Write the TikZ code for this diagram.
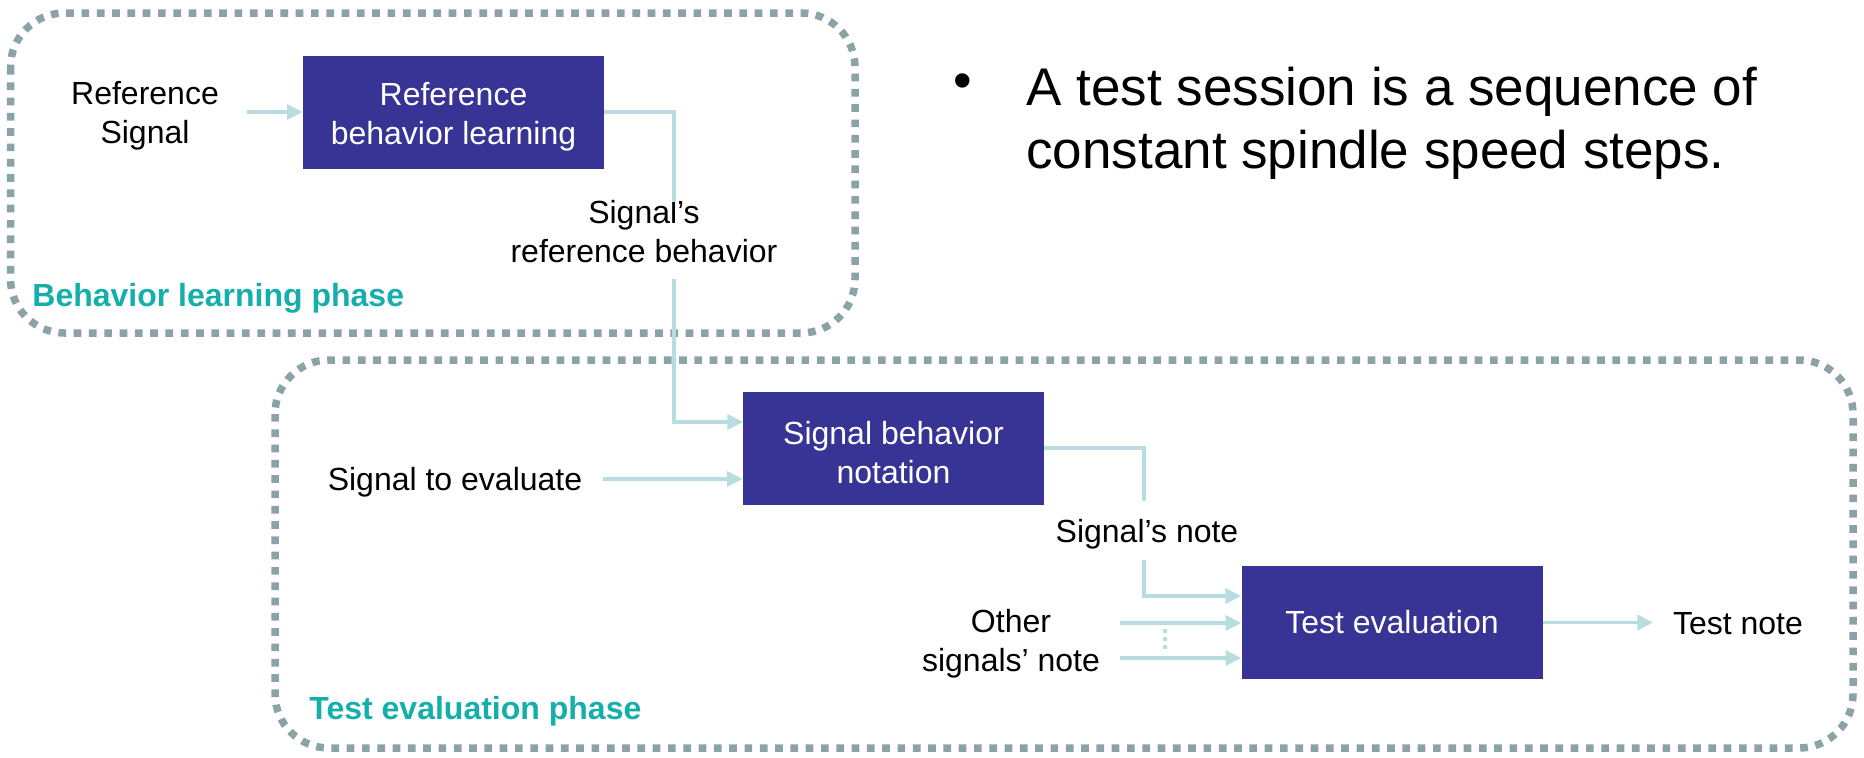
\documentclass[tikz,border=0pt]{standalone}
\usepackage{fontspec}
\setmainfont{Liberation Sans}
\usetikzlibrary{arrows.meta}

\definecolor{boxblue}{RGB}{55,52,150}
\definecolor{linkcol}{RGB}{183,221,224}
\definecolor{framecol}{RGB}{139,163,167}
\definecolor{phasecol}{RGB}{20,175,170}

% two-line caption lowered a little inside its box, keeping the box size
\newcommand{\lowcap}[1]{\raisebox{-2.3pt}[\height][\depth]{\parbox{150pt}{\centering #1}}}

\begin{document}
\begin{tikzpicture}[x=0.5pt,y=-0.5pt,
  txt/.style={font=\fontsize{16}{19.5}\selectfont, align=center, inner sep=0pt},
  stagebox/.style={txt, fill=boxblue, text=white, minimum width=150.5pt, minimum height=56.5pt},
  phaseframe/.style={draw=framecol, line width=3.75pt, dash pattern=on 3.85pt off 3.8pt, rounded corners=27pt},
  phaselabel/.style={font=\fontsize{16}{19.5}\selectfont\bfseries, text=phasecol, inner sep=0pt, anchor=west},
  link/.style={draw=linkcol, line width=1.6pt},
  flow/.style={link, -{Triangle[length=7.8pt,width=7.6pt]}},
  bullettxt/.style={font=\fontsize{26.5}{32}\selectfont, inner sep=0pt, anchor=base west}]

\useasboundingbox (0,0) rectangle (1864,757);

% phase frames
\draw[phaseframe] (10.5,13) rectangle (855,333);
\draw[phaseframe] (275,360) rectangle (1853,748);

\node[phaselabel] (learnph) at (32,298) {Behavior learning phase};
\node[phaselabel] (evalph) at (309,711) {Test evaluation phase};

% processing stages
\node[stagebox] (rbl) at (453.5,112) {\lowcap{Reference\\behavior learning}};
\node[stagebox] (sbn) at (893.5,448) {\lowcap{Signal behavior\\notation}};
\node[stagebox] (te) at (1392,622.5) {Test evaluation};

% inputs and outputs
\node[txt] (refsig) at (145,115.5) {Reference\\Signal};
\node[txt] (refbeh) at (644,232) {Signal’s\\reference behavior};
\node[txt] (sigeval) at (455,482) {Signal to evaluate};
\node[txt] (signote) at (1147,534) {Signal’s note};
\node[txt] (othernote) at (1011,644) {Other\\signals’ note};
\node[txt] (testnote) at (1738,624) {Test note};

% connector end points
\coordinate (refin) at (247,112);
\coordinate (behA) at (674,202);
\coordinate (behB) at (674,279);
\coordinate (sbnin) at (743,422);
\coordinate (evalin) at (603,479);
\coordinate (noteA) at (1144,501);
\coordinate (noteB) at (1144,560);
\coordinate (tein) at (1241,596);
\coordinate (otherA) at (1120,623);
\coordinate (otherB) at (1120,658);
\coordinate (dotsA) at (1165,629);
\coordinate (dotsB) at (1165,653);
\coordinate (testout) at (1653,622.5);

% connectors
\draw[flow] (refin) -- (rbl.west |- refin);
\draw[link] (rbl.east) -| (behA);
\draw[flow] (behB) |- (sbnin);
\draw[flow] (evalin) -- (sbn.west |- evalin);
\draw[link] (sbn.east) -| (noteA);
\draw[flow] (noteB) |- (tein);
\draw[flow] (otherA) -- (te.west |- otherA);
\draw[flow] (otherB) -- (te.west |- otherB);
\draw[draw=linkcol, line width=2pt, dash pattern=on 2pt off 2pt] (dotsA) -- (dotsB);
\draw[flow] (te.east) -- (testout);

% side note
\node[font=\fontsize{26.5}{32}\selectfont, inner sep=0pt] (bul) at (963,86) {•};
\node[bullettxt] (noteL1) at (1026,105) {A test session is a sequence of};
\node[bullettxt] (noteL2) at (1026,168) {constant spindle speed steps.};
\end{tikzpicture}
\end{document}
